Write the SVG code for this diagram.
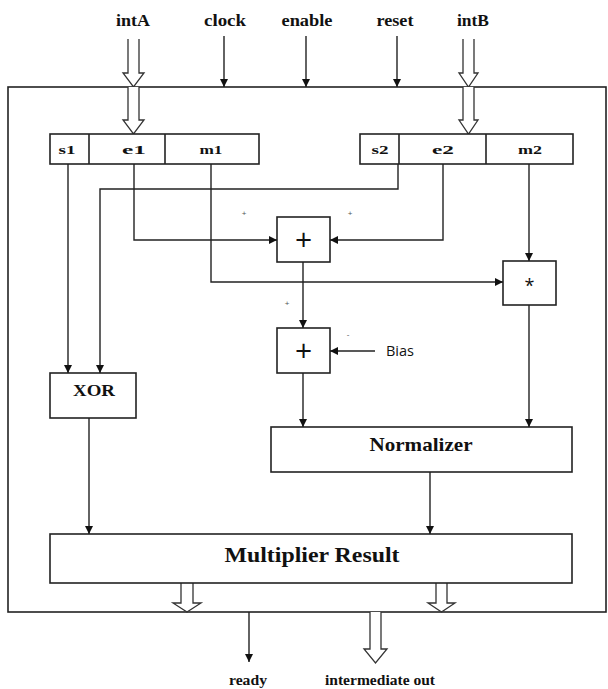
<svg xmlns="http://www.w3.org/2000/svg" width="608" height="689" viewBox="0 0 608 689">
<defs>
<marker id="ah" viewBox="0 0 10 10" refX="10" refY="5" markerWidth="8" markerHeight="8" markerUnits="userSpaceOnUse" orient="auto">
<path d="M0,0 L10,5 L0,10 z" fill="#111"/>
</marker>
</defs>
<style>
.b{fill:#fff;stroke:#222;stroke-width:1.6}
.c{fill:none;stroke:#222;stroke-width:1.4;marker-end:url(#ah)}
.ba{fill:#fff;stroke:#333;stroke-width:1.3}
.t{font-family:"Liberation Serif",serif;font-weight:bold;fill:#111;text-anchor:middle}
.s{font-family:"Open Sans","Liberation Sans",sans-serif;fill:#111;text-anchor:middle}
</style>
<rect width="608" height="689" fill="#fff"/>
<g id="outer"><rect x="8" y="87" width="598" height="525" class="b"/></g>

<g id="inputs">
<text class="t" x="133" y="26" font-size="16" textLength="34" lengthAdjust="spacingAndGlyphs">intA</text>
<text class="t" x="225" y="26" font-size="16" textLength="42" lengthAdjust="spacingAndGlyphs">clock</text>
<text class="t" x="307" y="26" font-size="16" textLength="51" lengthAdjust="spacingAndGlyphs">enable</text>
<text class="t" x="395" y="26" font-size="16" textLength="37" lengthAdjust="spacingAndGlyphs">reset</text>
<text class="t" x="473" y="26" font-size="16" textLength="32" lengthAdjust="spacingAndGlyphs">intB</text>
</g>

<g id="busarrows">
<path class="ba" d="M128,39 V73 H123 L133.5,87 L144,73 H139 V39"/>
<path class="ba" d="M128,87 V120 H123 L133.5,134 L144,120 H139 V87"/>
<path class="ba" d="M463,39 V73 H459 L468.5,87 L478,73 H474 V39"/>
<path class="ba" d="M463,87 V120 H459 L468.5,134 L478,120 H474 V87"/>
<path class="ba" d="M181,583 V603 H173 L187,612 L201,603 H193 V583"/>
<path class="ba" d="M436,583 V603 H428 L441.5,612 L455,603 H447 V583"/>
<path class="ba" d="M370,612 V649 H364 L375.5,663 L387,649 H381 V612"/>
</g>

<g id="regA">
<rect x="50" y="134" width="209" height="30" class="b"/>
<line x1="89" y1="134" x2="89" y2="164" stroke="#222" stroke-width="1.6"/>
<line x1="165" y1="134" x2="165" y2="164" stroke="#222" stroke-width="1.6"/>
<text class="t" x="67" y="154" font-size="13" textLength="17" lengthAdjust="spacingAndGlyphs">s1</text>
<text class="t" x="134" y="154" font-size="13" textLength="24" lengthAdjust="spacingAndGlyphs">e1</text>
<text class="t" x="211" y="154" font-size="13" textLength="23" lengthAdjust="spacingAndGlyphs">m1</text>
</g>
<g id="regB">
<rect x="360" y="134" width="213" height="30" class="b"/>
<line x1="399" y1="134" x2="399" y2="164" stroke="#222" stroke-width="1.6"/>
<line x1="486" y1="134" x2="486" y2="164" stroke="#222" stroke-width="1.6"/>
<text class="t" x="380" y="154" font-size="13" textLength="17" lengthAdjust="spacingAndGlyphs">s2</text>
<text class="t" x="443" y="154" font-size="13" textLength="22" lengthAdjust="spacingAndGlyphs">e2</text>
<text class="t" x="530" y="154" font-size="13" textLength="24" lengthAdjust="spacingAndGlyphs">m2</text>
</g>

<g id="adder1">
<rect x="277" y="217" width="53" height="45" class="b"/>
<text class="s" x="303.5" y="250" font-size="30">+</text>
</g>
<g id="mult">
<rect x="503" y="261" width="53" height="44" class="b"/>
<text class="s" x="529.5" y="292" font-size="18">*</text>
</g>
<g id="adder2">
<rect x="277" y="328" width="53" height="45" class="b"/>
<text class="s" x="303.5" y="361" font-size="30">+</text>
</g>
<g id="bias"><text class="s" x="400" y="356" font-size="14" textLength="28" lengthAdjust="spacingAndGlyphs">Bias</text></g>
<g id="xor">
<rect x="50" y="373" width="86" height="45" class="b"/>
<text class="t" x="94" y="396" font-size="17" textLength="42" lengthAdjust="spacingAndGlyphs">XOR</text>
</g>
<g id="normalizer">
<rect x="271" y="427" width="301" height="45" class="b"/>
<text class="t" x="421" y="451" font-size="19" textLength="103" lengthAdjust="spacingAndGlyphs">Normalizer</text>
</g>
<g id="result">
<rect x="50" y="534" width="522" height="49" class="b"/>
<text class="t" x="312" y="562" font-size="22" textLength="175" lengthAdjust="spacingAndGlyphs">Multiplier Result</text>
</g>

<g id="signs" font-family="'Liberation Sans',sans-serif" font-size="8" fill="#555" text-anchor="middle">
<text x="244" y="216">+</text>
<text x="350" y="216">+</text>
<text x="287" y="306">+</text>
<text x="348" y="337">-</text>
</g>

<g id="connectors">
<path class="c" d="M224,36 V87"/>
<path class="c" d="M306,36 V87"/>
<path class="c" d="M397,36 V87"/>
<path class="c" d="M68,164 V373"/>
<path class="c" d="M398,164 V189 H100 V373"/>
<path class="c" d="M134,164 V240 H277"/>
<path class="c" d="M443,164 V240 H330"/>
<path class="c" d="M211,164 V282 H503"/>
<path class="c" d="M529,164 V261"/>
<path class="c" d="M303,262 V328"/>
<path class="c" d="M375,351 H330"/>
<path class="c" d="M303,373 V427"/>
<path class="c" d="M529,305 V427"/>
<path class="c" d="M89,418 V534"/>
<path class="c" d="M430,472 V534"/>
<path class="c" d="M249,612 V662"/>
</g>

<g id="outputs">
<text class="t" x="248" y="685" font-size="14" textLength="38" lengthAdjust="spacingAndGlyphs">ready</text>
<text class="t" x="380" y="685" font-size="14" textLength="110" lengthAdjust="spacingAndGlyphs">intermediate out</text>
</g>
</svg>
